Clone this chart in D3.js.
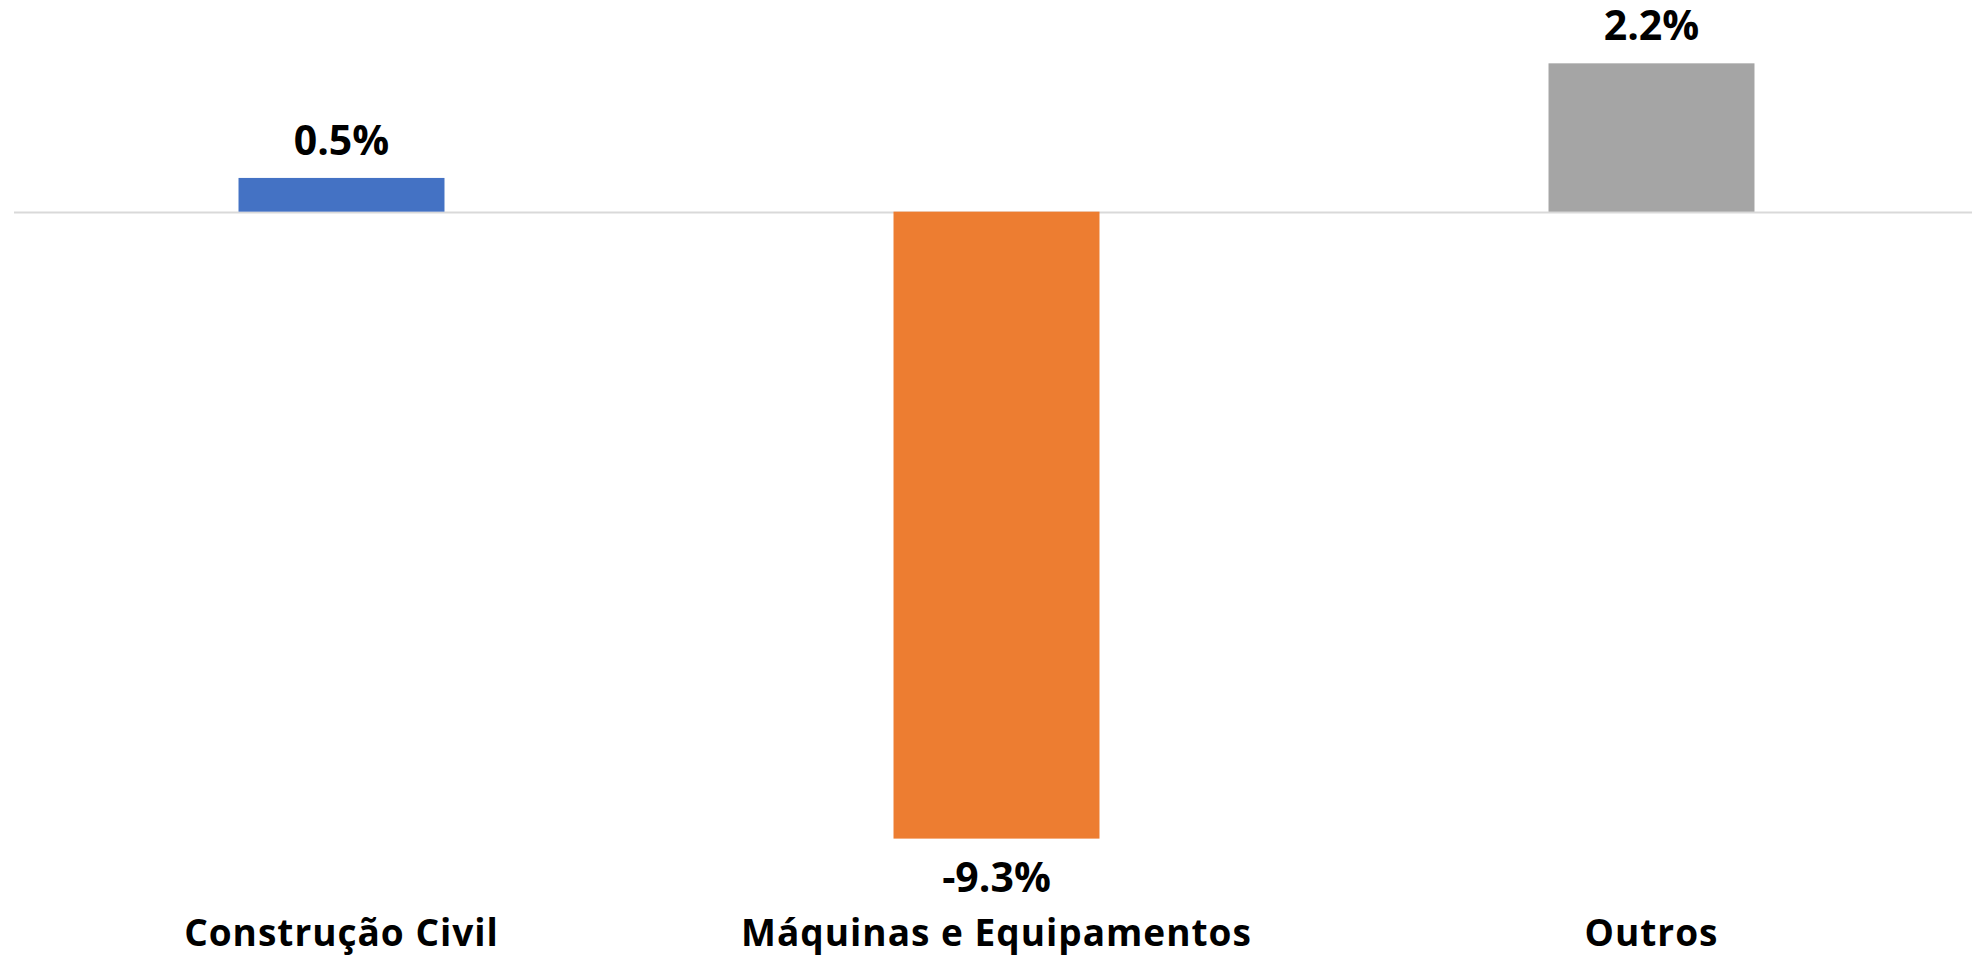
<!DOCTYPE html>
<html>
<head>
<meta charset="utf-8">
<script src="https://cdn.jsdelivr.net/npm/d3@7"></script>
<style>
  html, body { margin: 0; padding: 0; background: #ffffff; }
  svg { display: block; }
  text { font-family: "Open Sans", "Noto Sans", sans-serif; font-weight: 700; fill: #000; }
</style>
</head>
<body>
<svg id="chart" width="1972" height="960"></svg>
<script>
// Variação por componente (%)
const categories = ["Construção Civil", "Máquinas e Equipamentos", "Outros"];
const values = [0.5, -9.3, 2.2];
const colors = ["#4472C4", "#ED7D31", "#A5A5A5"];
const valueLabels = ["0.5%", "-9.3%", "2.2%"];

const W = 1972, H = 960;
const svg = d3.select("#chart");

// category slots span the full plot width; bars use a 218% gap width
const x = d3.scaleBand().domain(categories).range([14, 1979]).padding(0);
const barW = x.step() / 3.18;

const y = d3.scaleLinear().domain([-10, 3]).range([885.8, 9.4]);

// zero line
svg.append("line")
  .attr("x1", 14).attr("x2", W)
  .attr("y1", y(0) + 0.8).attr("y2", y(0) + 0.8)
  .attr("stroke", "#d9d9d9").attr("stroke-width", 2);

const data = categories.map((c, i) => ({ c, v: values[i], color: colors[i], label: valueLabels[i] }));

svg.selectAll("rect.bar").data(data).enter().append("rect")
  .attr("class", "bar")
  .attr("x", d => x(d.c) + x.bandwidth() / 2 - barW / 2)
  .attr("width", barW)
  .attr("y", d => y(Math.max(0, d.v)))
  .attr("height", d => Math.abs(y(d.v) - y(0)))
  .attr("fill", d => d.color);

// value labels above positive bars, below negative ones
svg.selectAll("text.val").data(data).enter().append("text")
  .attr("class", "val")
  .attr("text-anchor", "middle")
  .attr("font-size", 41)
  .attr("x", d => x(d.c) + x.bandwidth() / 2)
  .attr("y", d => d.v >= 0 ? y(d.v) - 23 : y(d.v) + 53)
  .text(d => d.label);

// category axis labels along the bottom
const axis = svg.append("g")
  .attr("transform", "translate(0,946)")
  .call(d3.axisBottom(x).tickSize(0).tickPadding(0));
axis.select(".domain").remove();
axis.selectAll("text")
  .attr("dy", 0)
  .attr("y", 0)
  .attr("font-size", 37)
  .style("letter-spacing", "1px")
  .style("font-family", "\"Open Sans\", \"Noto Sans\", sans-serif")
  .style("font-weight", 700)
  .attr("fill", "#000");
</script>
</body>
</html>
